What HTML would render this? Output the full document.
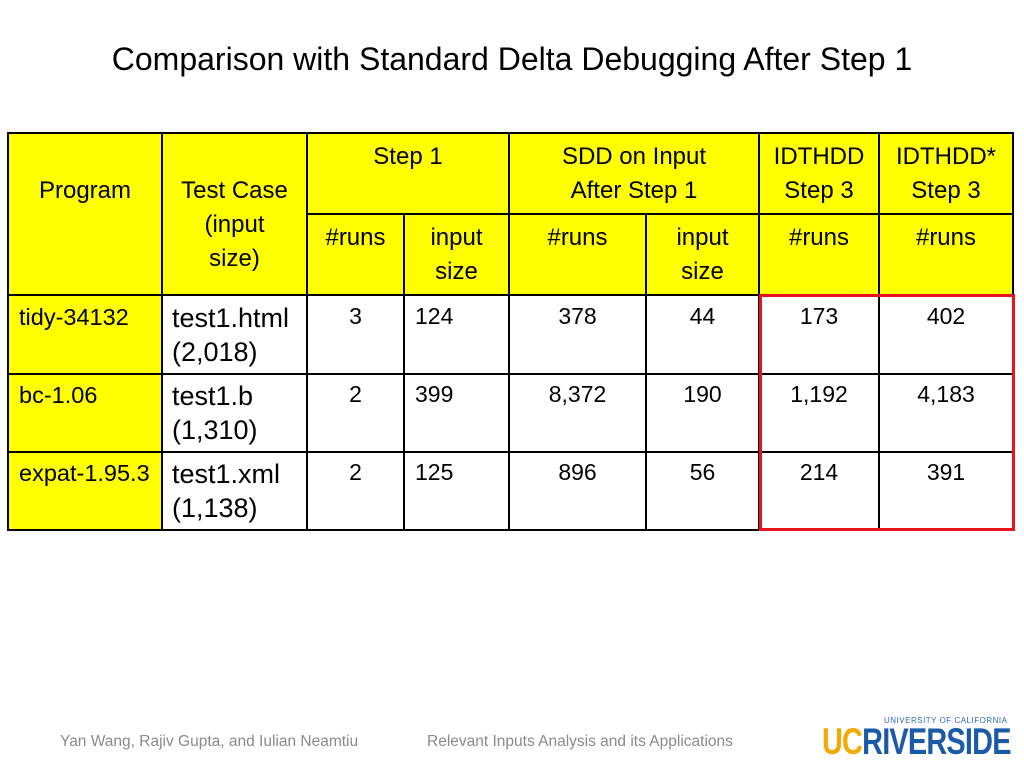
<!DOCTYPE html>
<html><head><meta charset="utf-8"><style>
body{margin:0;background:#fff;}
#s{position:relative;width:1024px;height:768px;overflow:hidden;font-family:"Liberation Sans",sans-serif;color:#000;}
.c{position:absolute;box-sizing:border-box;}
.y{background:#ffff00;}
.t{position:absolute;text-align:center;font-size:24px;line-height:34px;white-space:nowrap;}
.n{font-size:23px;}
.h{position:absolute;background:#000;height:2px;}
.v{position:absolute;background:#000;width:2px;}
</style></head><body>
<div id="s">
<div class="t" style="left:0;width:1024px;top:39px;font-size:32px;line-height:40px;">Comparison with Standard Delta Debugging After Step 1</div>

<div>
<div class="c y" style="left:8px;top:133px;width:1005px;height:162px;"></div>
<div class="c y" style="left:8px;top:295px;width:154px;height:235px;"></div>
<div class="h" style="left:7px;top:132px;width:1007px"></div>
<div class="h" style="left:306px;top:213px;width:708px"></div>
<div class="h" style="left:7px;top:294px;width:1007px"></div>
<div class="h" style="left:7px;top:373px;width:1007px"></div>
<div class="h" style="left:7px;top:451px;width:1007px"></div>
<div class="h" style="left:7px;top:529px;width:1007px"></div>
<div class="v" style="left:7px;top:132px;height:399px"></div>
<div class="v" style="left:161px;top:132px;height:399px"></div>
<div class="v" style="left:306px;top:132px;height:399px"></div>
<div class="v" style="left:403px;top:213px;height:318px"></div>
<div class="v" style="left:508px;top:132px;height:399px"></div>
<div class="v" style="left:645px;top:213px;height:318px"></div>
<div class="v" style="left:758px;top:132px;height:399px"></div>
<div class="v" style="left:878px;top:132px;height:399px"></div>
<div class="v" style="left:1012px;top:132px;height:399px"></div>

<div class="t" style="left:8px;width:154px;top:174px;">Program</div>
<div class="t" style="left:162px;width:145px;top:174px;">Test Case<br>(input<br>size)</div>
<div class="t" style="left:307px;width:202px;top:140px;">Step 1</div>
<div class="t" style="left:509px;width:250px;top:140px;">SDD on Input<br>After Step 1</div>
<div class="t" style="left:759px;width:120px;top:140px;">IDTHDD<br>Step 3</div>
<div class="t" style="left:879px;width:134px;top:140px;">IDTHDD*<br>Step 3</div>
<div class="t" style="left:307px;width:97px;top:221px;">#runs</div>
<div class="t" style="left:404px;width:105px;top:221px;">input<br>size</div>
<div class="t" style="left:509px;width:137px;top:221px;">#runs</div>
<div class="t" style="left:646px;width:113px;top:221px;">input<br>size</div>
<div class="t" style="left:759px;width:120px;top:221px;">#runs</div>
<div class="t" style="left:879px;width:134px;top:221px;">#runs</div>

<div class="t" style="left:19px;top:302px;font-size:23.5px;line-height:30px;text-align:left">tidy-34132</div>
<div class="t" style="left:172px;top:301px;text-align:left;font-size:27px">test1.html<br>(2,018)</div>
<div class="t n" style="left:307px;width:97px;top:299px">3</div>
<div class="t n" style="left:415px;top:299px;text-align:left">124</div>
<div class="t n" style="left:509px;width:137px;top:299px">378</div>
<div class="t n" style="left:646px;width:113px;top:299px">44</div>
<div class="t n" style="left:759px;width:120px;top:299px">173</div>
<div class="t n" style="left:879px;width:134px;top:299px">402</div>

<div class="t" style="left:19px;top:380px;font-size:23.5px;line-height:30px;text-align:left">bc-1.06</div>
<div class="t" style="left:172px;top:379px;text-align:left;font-size:27px">test1.b<br>(1,310)</div>
<div class="t n" style="left:307px;width:97px;top:377px">2</div>
<div class="t n" style="left:415px;top:377px;text-align:left">399</div>
<div class="t n" style="left:509px;width:137px;top:377px">8,372</div>
<div class="t n" style="left:646px;width:113px;top:377px">190</div>
<div class="t n" style="left:759px;width:120px;top:377px">1,192</div>
<div class="t n" style="left:879px;width:134px;top:377px">4,183</div>

<div class="t" style="left:19px;top:458px;font-size:23.5px;line-height:30px;text-align:left">expat-1.95.3</div>
<div class="t" style="left:172px;top:457px;text-align:left;font-size:27px">test1.xml<br>(1,138)</div>
<div class="t n" style="left:307px;width:97px;top:455px">2</div>
<div class="t n" style="left:415px;top:455px;text-align:left">125</div>
<div class="t n" style="left:509px;width:137px;top:455px">896</div>
<div class="t n" style="left:646px;width:113px;top:455px">56</div>
<div class="t n" style="left:759px;width:120px;top:455px">214</div>
<div class="t n" style="left:879px;width:134px;top:455px">391</div>
</div>

<div class="c" style="left:759px;top:294px;width:256px;height:237px;border:3px solid #e8141b;"></div>

<div class="t" style="left:60px;top:732px;font-size:15.5px;line-height:20px;color:#8a8a8a;text-align:left">Yan Wang, Rajiv Gupta, and Iulian Neamtiu</div>
<div class="t" style="left:427px;top:732px;font-size:15.5px;line-height:20px;color:#8a8a8a;text-align:left">Relevant Inputs Analysis and its Applications</div>

<div style="position:absolute;left:822px;top:716px;width:192px;height:44px;">
<div style="position:absolute;left:62px;top:0;font-size:8px;color:#2d6db5;letter-spacing:0.5px;white-space:nowrap">UNIVERSITY OF CALIFORNIA</div>
<div style="position:absolute;left:0;top:6px;font-size:37px;font-weight:bold;line-height:40px;white-space:nowrap;transform:scaleX(0.78);transform-origin:left;letter-spacing:-1px"><span style="color:#f2a900">UC</span><span style="color:#1b5aa8">RIVERSIDE</span></div>
</div>
</div>
</body></html>
